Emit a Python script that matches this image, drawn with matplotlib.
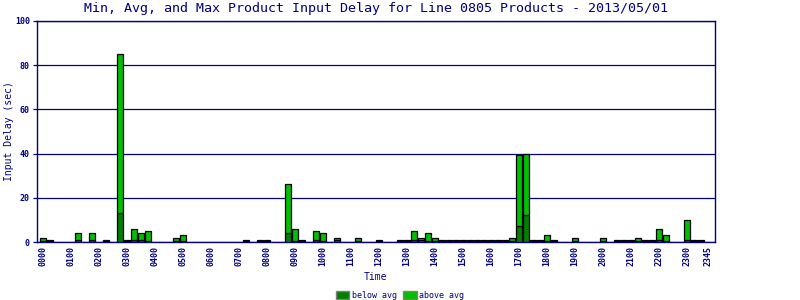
import matplotlib
matplotlib.use("Agg")
import matplotlib.pyplot as plt
from matplotlib.patches import Patch
import numpy as np

# 15-minute slots 0000 .. 2345
slot_labels = ["%02d%02d" % (h, m) for h in range(24) for m in (0, 15, 30, 45)]

max_delay = [
    1.8, 1.0, 0, 0, 0, 4.2, 0, 4.2, 0, 1.0, 0, 85.0, 1.0, 6.0, 4.2, 5.1,
    0, 0, 0, 1.8, 3.3, 0, 0, 0, 0, 0, 0, 0, 0, 1.0, 0, 1.0,
    1.0, 0, 0, 26.2, 6.0, 1.0, 0, 5.1, 4.2, 0, 1.8, 0, 0, 1.8, 0, 0,
    1.0, 0, 0, 1.0, 1.0, 5.1, 1.8, 4.2, 1.8, 1.0, 1.0, 1.0, 1.0, 1.0, 1.0, 1.0,
    1.0, 1.0, 1.0, 1.8, 39.4, 40.0, 1.0, 1.0, 3.3, 1.0, 0, 0, 1.8, 0, 0, 0,
    1.8, 0, 1.0, 1.0, 1.0, 1.8, 1.0, 1.0, 5.9, 3.2, 0, 0, 10.0, 1.0, 1.0, 0,
]

below_avg = [
    0.4, 0.4, 0, 0, 0, 1.0, 0, 1.0, 0, 0.4, 0, 13.1, 0.4, 1.0, 1.0, 0.4,
    0, 0, 0, 0.4, 0.4, 0, 0, 0, 0, 0, 0, 0, 0, 0.4, 0, 0.4,
    0.4, 0, 0, 4.1, 0.4, 0.4, 0, 1.0, 0.4, 0, 1.0, 0, 0, 0.4, 0, 0,
    0.4, 0, 0, 0.4, 0.4, 1.0, 1.0, 0.4, 0.4, 0.4, 0.4, 0.4, 0.4, 0.4, 0.4, 0.4,
    0.4, 0.4, 0.4, 0.4, 7.4, 12.4, 0.4, 0.4, 0.4, 0.4, 0, 0, 0.4, 0, 0, 0,
    0.4, 0, 0.4, 0.4, 0.4, 0.4, 0.4, 0.4, 1.0, 0.4, 0, 0, 1.0, 0.4, 0.4, 0,
]

above_avg = [m - b for m, b in zip(max_delay, below_avg)]

tick_idx = list(range(0, 96, 4)) + [95]
tick_labels = [slot_labels[i] for i in tick_idx]

NAVY = "#000080"
DARK = "#008000"
LIGHT = "#00c000"
FONT = "DejaVu Sans Mono"

fig = plt.figure(figsize=(8, 3), dpi=100)
ax = fig.add_axes([36.7 / 800, (300 - 242.3) / 300, 678.3 / 800, (242.3 - 20.7) / 300])

x = np.arange(96)
mask = np.array(max_delay) > 0
ax.bar(x[mask], np.array(below_avg)[mask], width=0.81, color=DARK,
       edgecolor="black", linewidth=0.9, zorder=3)
ax.bar(x[mask], np.array(above_avg)[mask], width=0.81, bottom=np.array(below_avg)[mask],
       color=LIGHT, edgecolor="black", linewidth=0.9, zorder=3)

ax.set_xlim(-0.857, 96.04)
ax.set_ylim(0, 100)
ax.set_yticks([0, 20, 40, 60, 80, 100])
ax.yaxis.grid(True, color=NAVY, linewidth=0.9, zorder=1)
ax.set_axisbelow(True)

ax.set_xticks(tick_idx)
ax.set_xticklabels(tick_labels, rotation=90, fontsize=6, family=FONT,
                   fontweight="bold", color=NAVY)
for lab in ax.get_yticklabels():
    lab.set_fontsize(6)
    lab.set_family(FONT)
    lab.set_fontweight("bold")
    lab.set_color(NAVY)
ax.tick_params(axis="x", length=0, pad=3)
ax.tick_params(axis="y", length=3, color=NAVY, width=0.9, pad=2)

for s in ax.spines.values():
    s.set_color(NAVY)
    s.set_linewidth(1.0)

ax.set_title("Min, Avg, and Max Product Input Delay for Line 0805 Products - 2013/05/01",
             fontsize=9.6, family=FONT, color=NAVY, pad=6)
ax.set_ylabel("Input Delay (sec)", fontsize=7, family=FONT, color=NAVY)
ax.yaxis.set_label_coords(-0.034, 0.5)
ax.set_xlabel("Time", fontsize=7, family=FONT, color=NAVY, labelpad=4)

handles = [Patch(facecolor=DARK, edgecolor="#808080", linewidth=1.0, label="below avg"),
           Patch(facecolor=LIGHT, edgecolor="#808080", linewidth=1.0, label="above avg")]
leg = fig.legend(handles=handles, loc="lower center", bbox_to_anchor=(0.5, -0.025), ncol=2,
                 frameon=False, prop={"family": FONT, "size": 6}, handlelength=1.6,
                 handleheight=1.1, handletextpad=0.3, columnspacing=0.8)
for t in leg.get_texts():
    t.set_color(NAVY)

fig.savefig("out.png", dpi=100)
